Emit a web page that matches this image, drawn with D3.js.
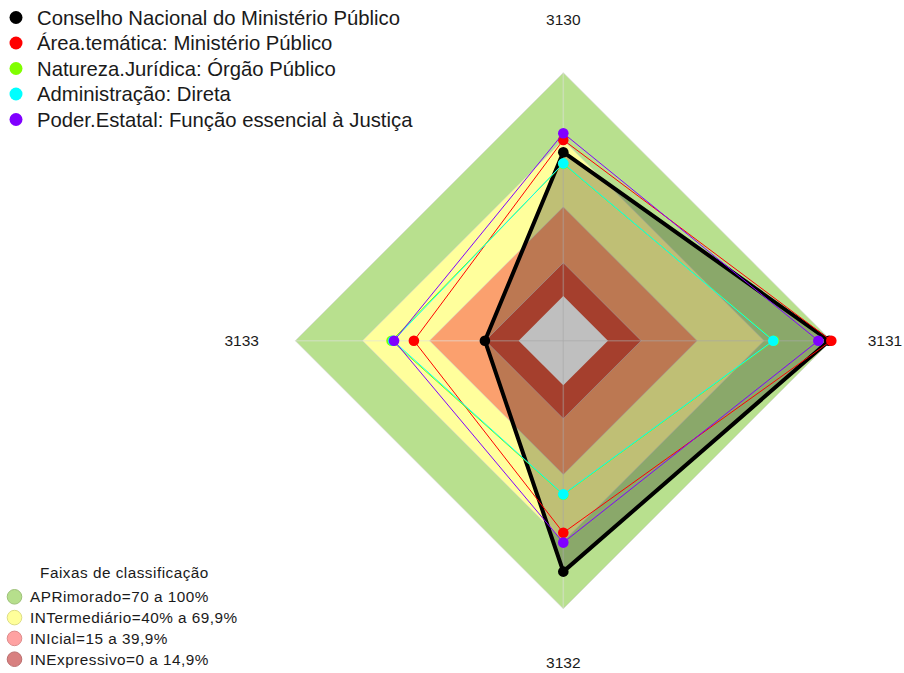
<!DOCTYPE html>
<html>
<head>
<meta charset="utf-8">
<script src="https://cdn.jsdelivr.net/npm/d3@7"></script>
<style>
  html, body { margin: 0; padding: 0; background: #ffffff; }
  svg { display: block; font-family: "Liberation Sans", Arial, sans-serif; }
</style>
</head>
<body>
<svg id="chart" width="904" height="673"></svg>
<script>
// ---- data ----
const axes = ["3130", "3131", "3132", "3133"];

const seriesNames = [
  "Conselho Nacional do Ministério Público",
  "Área.temática: Ministério Público",
  "Natureza.Jurídica: Órgão Público",
  "Administração: Direta",
  "Poder.Estatal: Função essencial à Justiça"
];
const seriesColors = ["#000000", "#ff0000", "#80ff00", "#00ffff", "#8000ff"];

const cnmpValues     = [64.4, 99.0, 83.4, 15.1];
const areaValues     = [69.9, 100.0, 66.0, 46.9];
const naturezaValues = [59.2, 74.3, 49.0, 56.9];
const adminValues    = [59.4, 74.0, 48.8, 56.2];
const poderValues    = [72.9, 94.2, 70.4, 55.8];
const seriesValues = [cnmpValues, areaValues, naturezaValues, adminValues, poderValues];

const bandLabels = [
  "APRimorado=70 a 100%",
  "INTermediário=40% a 69,9%",
  "INIcial=15 a 39,9%",
  "INExpressivo=0 a 14,9%"
];
const bandUpper = [100, 69.9, 39.9, 14.9];
const bandColors = ["#b8e08e", "#ffff9c", "#fba06e", "#dc553d"];
const bandLegendColors = ["#b6df8c", "#ffff9a", "#ffa2a2", "#d88080"];
const bandLegendTitle = "Faixas de classificação";

const scaleMin = -20, scaleMax = 100;

// ---- layout ----
const svg = d3.select("#chart");
const cx = 563.3, cy = 340.7, R = 268;

const r = d3.scaleLinear().domain([scaleMin, scaleMax]).range([0, R]);
const angle = d3.scalePoint().domain(axes).range([0, 2 * Math.PI * (axes.length - 1) / axes.length]);

const g = svg.append("g").attr("transform", `translate(${cx},${cy})`);

const radialLine = d3.lineRadial()
  .angle((d, i) => angle(axes[i]))
  .radius(d => r(d))
  .curve(d3.curveLinearClosed);

// bands
bandUpper.forEach((u, i) => {
  g.append("path")
    .attr("d", radialLine(axes.map(() => u)))
    .attr("fill", bandColors[i])
    .attr("stroke", "rgba(210,210,210,0.6)")
    .attr("stroke-width", 1);
});
// centre (below zero)
g.append("path")
  .attr("d", radialLine(axes.map(() => 0)))
  .attr("fill", "#ffffff")
  .attr("stroke", "none");

// axis lines
axes.forEach(a => {
  const th = angle(a);
  g.append("line")
    .attr("x1", 0).attr("y1", 0)
    .attr("x2", r(scaleMax) * Math.sin(th))
    .attr("y2", -r(scaleMax) * Math.cos(th))
    .attr("stroke", "rgba(225,225,225,0.45)")
    .attr("stroke-width", 1.5);
});

// first series filled
g.append("path")
  .attr("d", radialLine(cnmpValues))
  .attr("fill", "rgba(0,0,0,0.25)")
  .attr("stroke", "none");

// series lines and points
seriesValues.forEach((vals, si) => {
  g.append("path")
    .attr("d", radialLine(vals))
    .attr("fill", "none")
    .attr("stroke", seriesColors[si])
    .attr("stroke-width", si === 0 ? 4 : 1)
    .attr("stroke-linejoin", "round");
  g.selectAll(null)
    .data(vals)
    .enter()
    .append("circle")
    .attr("cx", (d, i) => r(d) * Math.sin(angle(axes[i])))
    .attr("cy", (d, i) => -r(d) * Math.cos(angle(axes[i])))
    .attr("r", 5.3)
    .attr("fill", seriesColors[si]);
});

// axis labels
const labelR = R * 1.2;
axes.forEach(a => {
  const th = angle(a);
  g.append("text")
    .attr("x", labelR * Math.sin(th))
    .attr("y", -labelR * Math.cos(th))
    .attr("text-anchor", "middle")
    .attr("dominant-baseline", "central")
    .attr("font-size", 15.5)
    .attr("fill", "#1a1a1a")
    .text(a);
});

// top legend
const leg = svg.append("g");
seriesNames.forEach((name, i) => {
  const y = 17.5 + i * 25.5;
  leg.append("circle").attr("cx", 16).attr("cy", y).attr("r", 6.5).attr("fill", seriesColors[i]);
  leg.append("text")
    .attr("x", 37).attr("y", y)
    .attr("dominant-baseline", "central")
    .attr("font-size", 20.3)
    .attr("fill", "#1a1a1a")
    .text(name);
});

// bottom legend
const bl = svg.append("g");
bl.append("text")
  .attr("x", 124.5).attr("y", 572.7)
  .attr("text-anchor", "middle")
  .attr("dominant-baseline", "central")
  .attr("font-size", 15.3)
  .attr("letter-spacing", 0.5)
  .attr("fill", "#1a1a1a")
  .text(bandLegendTitle);
bandLabels.forEach((lab, i) => {
  const y = 596.8 + i * 20.8;
  bl.append("circle").attr("cx", 14.5).attr("cy", y).attr("r", 7.3)
    .attr("fill", bandLegendColors[i])
    .attr("stroke", d3.color(bandLegendColors[i]).darker(0.4))
    .attr("stroke-width", 1);
  bl.append("text")
    .attr("x", 30).attr("y", y)
    .attr("dominant-baseline", "central")
    .attr("font-size", 15.3)
    .attr("letter-spacing", 0.5)
    .attr("fill", "#1a1a1a")
    .text(lab);
});
</script>
</body>
</html>
